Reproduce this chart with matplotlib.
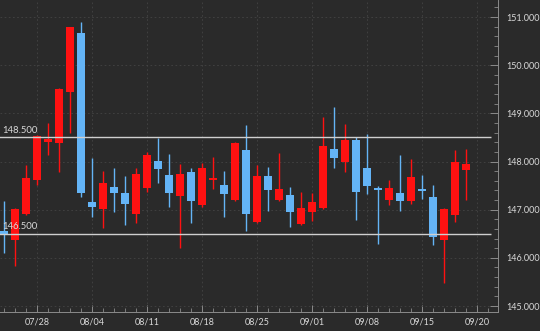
import numpy as np
import matplotlib
matplotlib.use("Agg")
from matplotlib import pyplot as plt
from matplotlib.ticker import MultipleLocator, FixedLocator

# daily OHLC, 07/23 .. 09/19
opens  = [146.56, 146.37, 146.92, 147.62, 148.41, 148.38, 149.45, 150.66, 147.15, 147.01,
          147.48, 147.34, 146.91, 147.46, 148.02, 147.71, 147.28, 147.78, 147.10, 147.62,
          147.51, 147.20, 148.24, 146.75, 147.69, 147.20, 147.30, 146.70, 146.95, 147.04,
          148.26, 147.98, 148.45, 147.86, 147.45, 147.20, 147.34, 147.19, 147.42, 147.27,
          146.37, 146.89, 147.82]
highs  = [147.19, 147.03, 147.93, 148.55, 148.80, 149.52, 150.80, 150.90, 148.07, 147.81,
          147.86, 147.69, 147.86, 148.20, 148.48, 148.16, 147.95, 147.86, 147.96, 148.10,
          147.80, 148.40, 148.76, 147.93, 147.89, 148.18, 147.48, 147.37, 147.35, 148.93,
          149.13, 148.78, 148.50, 148.57, 147.50, 147.62, 148.14, 148.05, 147.73, 147.51,
          147.03, 148.24, 148.25]
lows   = [146.10, 145.83, 146.90, 147.51, 148.14, 147.79, 148.59, 147.27, 146.85, 146.61,
          146.96, 146.68, 146.72, 147.37, 147.56, 147.06, 146.20, 146.72, 147.06, 147.42,
          146.85, 147.18, 146.56, 146.73, 146.98, 147.18, 146.65, 146.68, 146.77, 147.02,
          147.87, 147.79, 146.79, 147.32, 146.29, 147.10, 146.97, 147.12, 147.22, 146.27,
          145.47, 146.75, 147.20]
closes = [146.48, 147.01, 147.65, 148.53, 148.46, 149.50, 150.79, 147.35, 147.05, 147.55,
          147.34, 147.12, 147.74, 148.14, 147.84, 147.35, 147.74, 147.17, 147.86, 147.66,
          147.32, 148.38, 146.92, 147.70, 147.41, 147.42, 146.96, 147.03, 147.15, 148.33,
          148.07, 148.45, 147.37, 147.49, 147.41, 147.44, 147.18, 147.67, 147.38, 146.44,
          147.01, 148.00, 147.95]

label_text = ["07/28", "08/04", "08/11", "08/18", "08/25", "09/01", "09/08", "09/15", "09/20"]
label_pos = [3, 8, 13, 18, 23, 28, 33, 38, 43]
levels = [148.5, 146.5]

bg = "#2a2a2a"
up_col = "#ff1111"
dn_col = "#64b4f6"
txt = "#d9d9d9"

fig = plt.figure(figsize=(5.4, 3.31), dpi=100, facecolor=bg)
ax = fig.add_axes([0, 19/331, 498/540, 312/331], facecolor=bg)

o = np.array(opens); h = np.array(highs); l = np.array(lows); c = np.array(closes)
x = np.arange(len(o))
up = c >= o
cols = np.where(up, up_col, dn_col)
body_lo = np.minimum(o, c)
body_h = np.maximum(np.abs(c - o), 0.04)

ax.vlines(x, l, h, colors=cols, linewidth=1.0, zorder=2)
ax.bar(x, body_h, bottom=body_lo, width=0.72, color=cols, linewidth=0, zorder=3)

for lv in levels:
    ax.hlines(lv, -0.5, 44.3, colors="#cfcfcf", linewidth=1.0, zorder=4)
    ax.text(-0.2, lv + 0.05, "%.3f" % lv, color=txt, fontsize=6.8, family="Lato",
            ha="left", va="bottom", zorder=5)

ax.set_xlim(-0.364, 44.91)
ax.set_ylim(144.876, 151.353)

ax.xaxis.set_major_locator(FixedLocator(label_pos))
ax.set_xticklabels(label_text)
ax.xaxis.set_minor_locator(MultipleLocator(1))
ax.yaxis.set_major_locator(MultipleLocator(1))
ax.yaxis.set_minor_locator(MultipleLocator(0.2))
ax.yaxis.set_major_formatter(matplotlib.ticker.FormatStrFormatter("%.3f"))
ax.yaxis.tick_right()

ax.tick_params(axis="x", which="major", direction="in", length=5, width=0.7,
               color="#8a8a8a", labelcolor=txt, labelsize=6.5, pad=4)
ax.tick_params(axis="x", which="minor", direction="in", length=3, width=0.6, color="#8a8a8a")
ax.tick_params(axis="y", which="major", direction="in", length=6, width=0.7,
               color="#8a8a8a", labelcolor=txt, labelsize=6.5, pad=6)
ax.tick_params(axis="y", which="minor", direction="in", length=3, width=0.6, color="#8a8a8a")
for lab in ax.get_xticklabels() + ax.get_yticklabels():
    lab.set_family("Lato")

ax.grid(True, which="major", color="#444444", linestyle=(0, (2, 3)), linewidth=0.6, zorder=0)

for s in ["top", "left"]:
    ax.spines[s].set_visible(False)
ax.spines["bottom"].set_color("#8a8a8a")
ax.spines["right"].set_color("#8a8a8a")
ax.spines["bottom"].set_linewidth(0.7)
ax.spines["right"].set_linewidth(0.7)

fig.savefig("out.png", dpi=100, facecolor=bg)
